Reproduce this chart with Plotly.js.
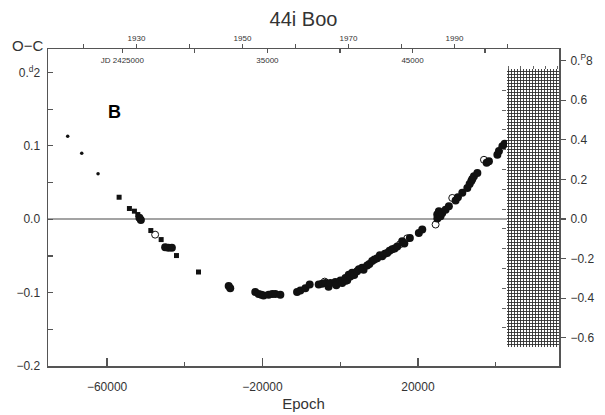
<!DOCTYPE html>
<html>
<head>
<meta charset="utf-8">
<script src="https://cdn.plot.ly/plotly-3.0.1.min.js"></script>
<style>html,body{margin:0;padding:0;background:#fff;}#chart{width:605px;height:415px;}</style>
</head>
<body>
<div id="chart"></div>
<script>
// ---- data (Epoch, O-C in days) ----
var earlyEpoch = [-70130, -66520, -62320];
var earlyOC    = [0.113, 0.090, 0.062];

var squareEpoch = [-56900, -54250, -52960, -52090, -48740, -46080, -42140, -36470];
var squareOC    = [0.030, 0.0146, 0.011, 0.0064, -0.0154, -0.0277, -0.0495, -0.0719];

var filledEpoch = [-51680, -51300, -45050, -44200, -43320,
  -28700, -28300,
  -21860, -21000, -20300, -19720, -18430, -17500, -16700, -15410,
  -11110, -10260, -8970, -7860,
  -5540, -4670, -3810, -3000, -2530, -1240, -1000, 50, 500, 1340, 1800, 2190, 2600, 3070, 3600, 4350, 4800, 5640, 6000, 6930, 7500, 8220, 8800, 9510, 10200,
  10800, 11500, 12090, 12700, 13380, 14000, 14670, 15950, 16500, 17920, 20230, 21110,
  24970, 25000, 25390, 25800, 26260, 27110, 27960, 29690, 30280, 31420, 32710, 33300, 33740, 34000, 34410, 35290,
  37680, 38270, 40440, 40850, 41730, 42320];
var filledOC = [0.002, -0.001, -0.038, -0.039, -0.039,
  -0.091, -0.094,
  -0.099, -0.102, -0.103, -0.104, -0.103, -0.102, -0.102, -0.103,
  -0.099, -0.097, -0.094, -0.089,
  -0.089, -0.088, -0.087, -0.092, -0.087, -0.0855, -0.090, -0.0836, -0.087, -0.080, -0.083, -0.0755, -0.078, -0.073, -0.076, -0.071, -0.068, -0.066, -0.069, -0.063, -0.061, -0.057, -0.055, -0.053, -0.049,
  -0.0505, -0.047, -0.046, -0.043, -0.041, -0.040, -0.037, -0.030, -0.033, -0.0255, -0.0187, -0.014,
  0.0064, 0.001, 0.011, 0.004, 0.0086, 0.013, 0.0177, 0.0255, 0.030, 0.036, 0.0427, 0.048, 0.052, 0.055, 0.0587, 0.063,
  0.077, 0.079, 0.088, 0.093, 0.0996, 0.103];

var openEpoch = [-47630, -4000, 1500, 15400, 17240, 24540, 28830, 36990];
var openOC    = [-0.021, -0.085, -0.084, -0.034, -0.026, -0.0072, 0.029, 0.081];

// hatched block (epoch span, phase span on right axis)
var hatchEpoch = [42835, 56495];
var hatchPhase = [-0.645, 0.756];

// ---- axis labels ----
var xRange = [-75200, 56300];
var yRange = [-0.2, 0.232];
var y2Range = [-0.742, 0.858];

var leftTickVals = [-0.2, -0.1, 0, 0.1, 0.2];
var leftTickText = ['\u22120.2', '\u22120.1', '0.0', '0.1', '0.<sup>d</sup>2'];
var rightTickVals = [-0.6, -0.4, -0.2, 0, 0.2, 0.4, 0.6, 0.8];
var rightTickText = ['\u22120.6', '\u22120.4', '\u22120.2', '0.0', '0.2', '0.4', '0.6', '0.<sup>P</sup>8'];

var yearLabelled = [1930, 1950, 1970, 1990];
var yearLabels = ['1930', '1950', '1970', '1990'];
var yearMinor = [1920, 1940, 1960, 1980, 2000];
var jdLabelled = [2425000, 2435000, 2445000];
var jdLabels = ['JD 2425000', '35000', '45000'];
var jdMinor = [2430000, 2440000, 2450000];

var hatchSideTicks = [0.65, 0.55, 0.45, 0.35, 0.25, 0.15, 0.05, -0.05, -0.15, -0.25, -0.35, -0.45, -0.55];
var hatchTopTicks = [43300, 46400, 49700, 52900, 56000];

// ephemeris used for the top (time) axes
var P = 0.26782, JD0 = 2440018.5;
function jdToEpoch(jd) { return (jd - JD0) / P; }
function yearToEpoch(y) { return jdToEpoch(2451545 + (y - 2000) * 365.25); }

var font = 'Liberation Sans, Arial, sans-serif';
var frameColor = '#555';

var traces = [
  {type: 'bar', x: [(hatchEpoch[0] + hatchEpoch[1]) / 2], width: [hatchEpoch[1] - hatchEpoch[0]],
   base: [hatchPhase[0]], y: [hatchPhase[1] - hatchPhase[0]], xaxis: 'x', yaxis: 'y2',
   marker: {color: '#ffffff', line: {width: 0},
            pattern: {shape: '+', size: 3, solidity: 0.5, fgcolor: '#2a2a2a', bgcolor: '#ffffff', fillmode: 'replace'}},
   hoverinfo: 'skip', showlegend: false},
  {type: 'scatter', mode: 'markers', x: earlyEpoch, y: earlyOC, xaxis: 'x', yaxis: 'y',
   marker: {symbol: 'circle', size: 3.5, color: '#111'}, showlegend: false},
  {type: 'scatter', mode: 'markers', x: squareEpoch, y: squareOC, xaxis: 'x', yaxis: 'y',
   marker: {symbol: 'square', size: 5, color: '#111'}, showlegend: false},
  {type: 'scatter', mode: 'markers', x: filledEpoch, y: filledOC, xaxis: 'x', yaxis: 'y',
   marker: {symbol: 'circle', size: 8, color: '#111'}, showlegend: false},
  {type: 'scatter', mode: 'markers', x: openEpoch, y: openOC, xaxis: 'x', yaxis: 'y',
   marker: {symbol: 'circle-open', size: 7, color: '#111', line: {width: 1, color: '#111'}}, showlegend: false},
  // empty traces so the auxiliary axes are built
  {type: 'scatter', x: [], y: [], xaxis: 'x2', yaxis: 'y', showlegend: false},
  {type: 'scatter', x: [], y: [], xaxis: 'x3', yaxis: 'y', showlegend: false},
  {type: 'scatter', x: [], y: [], xaxis: 'x4', yaxis: 'y', showlegend: false},
  {type: 'scatter', x: [], y: [], xaxis: 'x', yaxis: 'y3', showlegend: false}
];

var layout = {
  width: 605, height: 415,
  margin: {l: 48, r: 46, t: 49, b: 49},
  paper_bgcolor: '#fff', plot_bgcolor: '#fff',
  font: {family: font, color: '#333', size: 12},
  showlegend: false,
  bargap: 0,
  title: {text: '44i Boo', x: 0.5, xref: 'paper', xanchor: 'center', y: 0.955, yref: 'container', yanchor: 'middle',
          font: {size: 20, family: font, color: '#333'}},
  xaxis: {range: xRange, showgrid: false, zeroline: false, showline: true, mirror: true, linecolor: frameColor, linewidth: 1.5,
          tick0: -60000, dtick: 40000, ticks: 'inside', ticklen: 8, tickcolor: frameColor, tickwidth: 1.2,
          minor: {tick0: -60000, dtick: 20000, ticks: 'inside', ticklen: 4, tickcolor: frameColor, tickwidth: 1.2},
          tickfont: {size: 12, color: '#333'}, ticklabelstandoff: 9, tickformat: 'd',
          title: {text: 'Epoch', font: {size: 15, color: '#333'}, standoff: 5}},
  xaxis2: {overlaying: 'x', side: 'top', anchor: 'y', range: xRange, showgrid: false, zeroline: false, showline: false,
           tickmode: 'array', tickvals: yearLabelled.map(yearToEpoch), ticktext: yearLabels,
           ticks: 'outside', ticklen: 4, tickcolor: frameColor, tickwidth: 1.2, ticklabelstandoff: 0,
           minor: {tickvals: yearMinor.map(yearToEpoch), ticks: 'outside', ticklen: 4, tickcolor: frameColor, tickwidth: 1.2},
           tickfont: {size: 8, color: '#333'}},
  xaxis3: {overlaying: 'x', side: 'top', anchor: 'y', range: xRange, showgrid: false, zeroline: false, showline: false,
           tickmode: 'array', tickvals: jdLabelled.map(jdToEpoch), ticktext: jdLabels,
           ticks: 'inside', ticklen: 4, tickcolor: frameColor, tickwidth: 1.2, ticklabelposition: 'inside', ticklabelstandoff: 3,
           minor: {tickvals: jdMinor.map(jdToEpoch), ticks: 'inside', ticklen: 4, tickcolor: frameColor, tickwidth: 1.2},
           tickfont: {size: 8, color: '#333'}},
  xaxis4: {overlaying: 'x', side: 'top', anchor: 'free', position: 0.9376, range: xRange, showgrid: false, zeroline: false, showline: false,
           tickmode: 'array', tickvals: hatchTopTicks, showticklabels: false,
           ticks: 'outside', ticklen: 3, tickcolor: '#666', tickwidth: 1},
  yaxis: {range: yRange, showgrid: false, showline: true, mirror: true, linecolor: frameColor, linewidth: 1.5,
          zeroline: true, zerolinecolor: '#a3a3a3', zerolinewidth: 2,
          tickmode: 'array', tickvals: leftTickVals, ticktext: leftTickText,
          ticks: 'inside', ticklen: 5, tickcolor: frameColor, tickwidth: 1.2,
          minor: {tickvals: [-0.15, -0.05, 0.05, 0.15], ticks: 'inside', ticklen: 5, tickcolor: frameColor, tickwidth: 1.2},
          tickfont: {size: 12, color: '#333'}, ticklabelstandoff: 4},
  yaxis2: {overlaying: 'y', side: 'right', anchor: 'x', range: y2Range, showgrid: false, zeroline: false, showline: false,
           tickmode: 'array', tickvals: rightTickVals, ticktext: rightTickText,
           ticks: 'outside', ticklen: 6, tickcolor: frameColor, tickwidth: 1.2,
           tickfont: {size: 12, color: '#333'}, ticklabelstandoff: 2},
  yaxis3: {overlaying: 'y', side: 'left', anchor: 'free', position: 0.8963, range: y2Range, showgrid: false, zeroline: false, showline: false,
           tickmode: 'array', tickvals: hatchSideTicks, showticklabels: false,
           ticks: 'outside', ticklen: 4, tickcolor: '#666', tickwidth: 1},
  annotations: [
    {text: 'O\u2212C', xref: 'paper', yref: 'paper', x: -0.041, y: 1.01, xanchor: 'center', yanchor: 'middle', showarrow: false,
     font: {size: 15, color: '#333', family: font}},
    {text: '<b>B</b>', xref: 'paper', yref: 'paper', x: 0.131, y: 0.8016, xanchor: 'center', yanchor: 'middle', showarrow: false,
     font: {size: 18, color: '#000', family: font}}
  ]
};

Plotly.newPlot('chart', traces, layout, {displayModeBar: false, staticPlot: true});
</script>
</body>
</html>
